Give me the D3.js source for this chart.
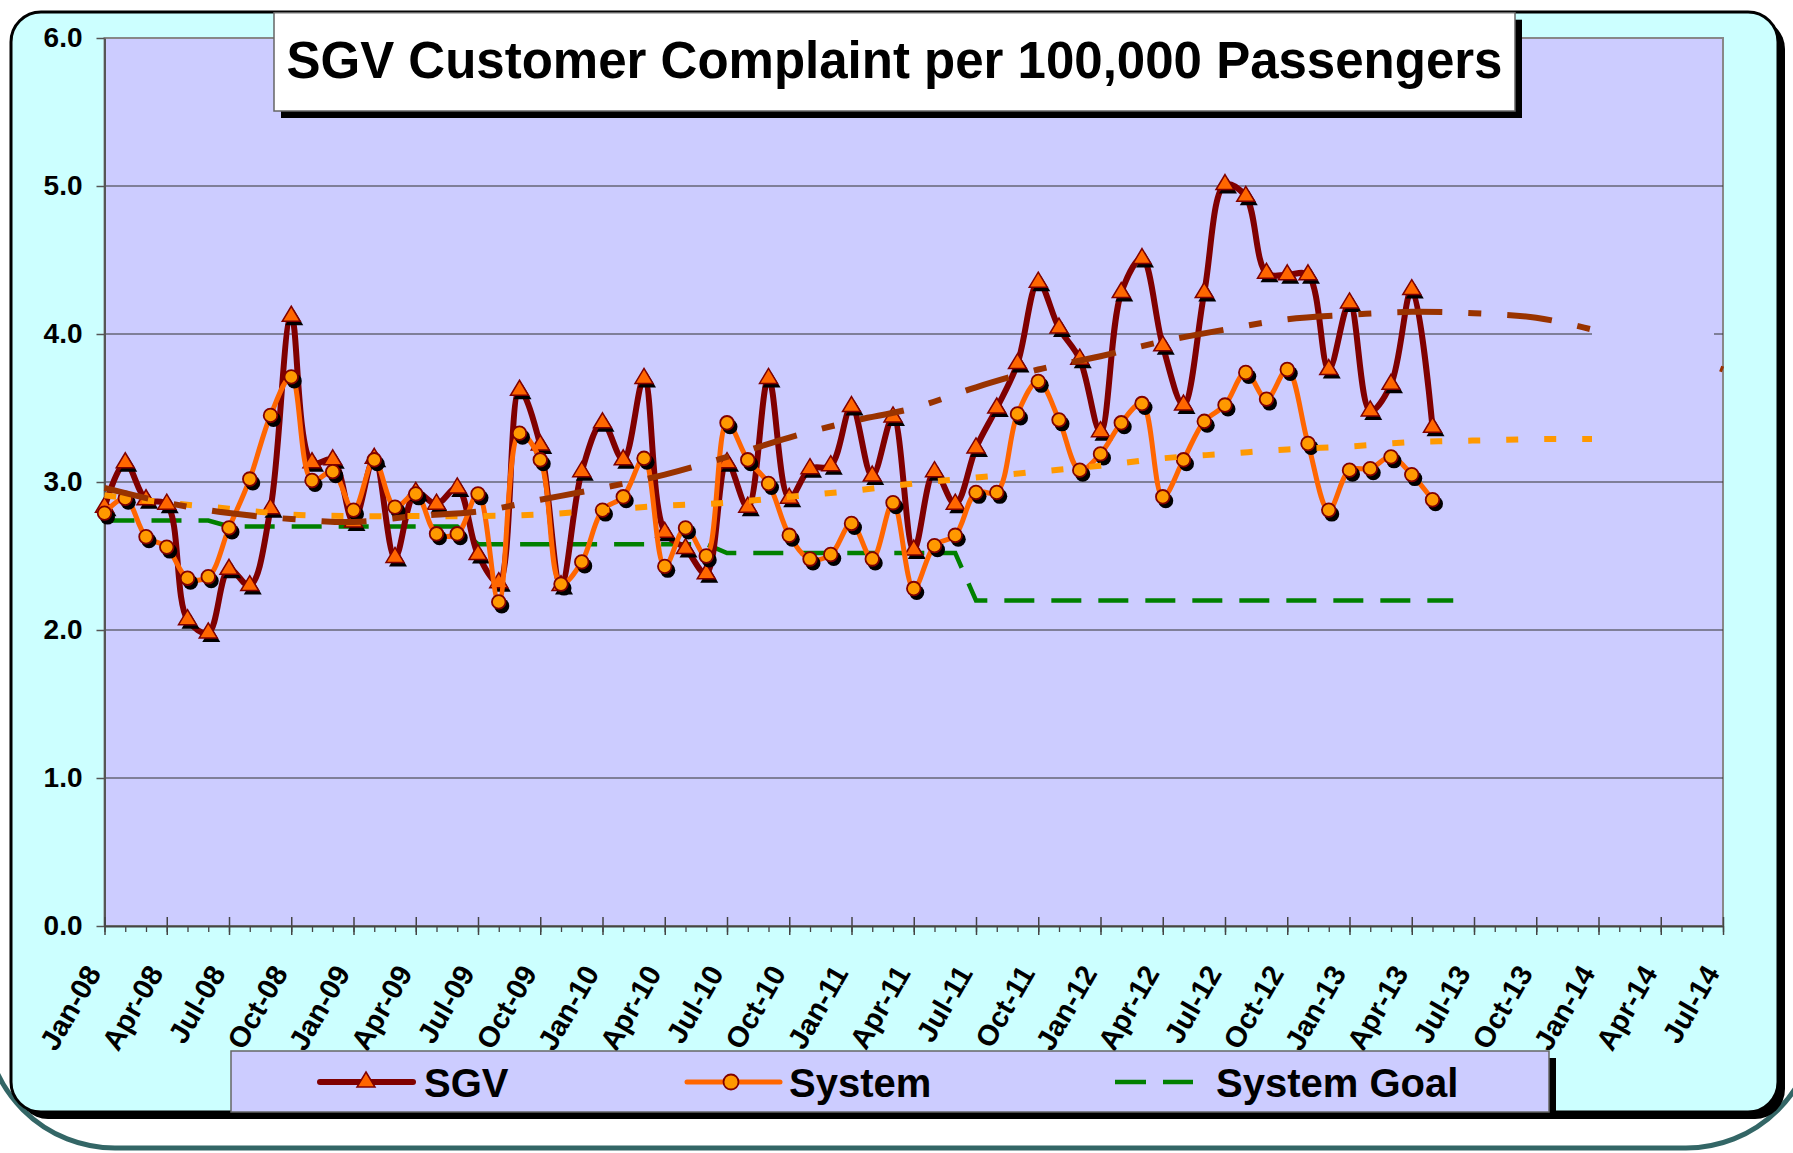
<!DOCTYPE html>
<html>
<head>
<meta charset="utf-8">
<script src="https://cdn.jsdelivr.net/npm/d3@7/dist/d3.min.js"></script>
<style>
  html, body { margin: 0; padding: 0; background: #fff; }
  svg { display: block; }
</style>
</head>
<body>
<svg width="1793" height="1153"></svg>
<script>
let svg = d3.select("svg");

//////////// DATA ////////////

// month index 0 = Jan-08, axis runs to Jul-14 (index 78)
const startMonth = new Date(2008, 0, 1);
const lastMonth = 78;

// complaints per 100,000 passengers, Jan-08 .. May-13
const sgvRate = [
  2.83, 3.13, 2.88, 2.85, 2.07, 1.98, 2.41, 2.30, 2.82, 4.12, 3.13, 3.15,
  2.73, 3.16, 2.49, 2.93, 2.85, 2.96, 2.51, 2.32, 3.62, 3.25, 2.30, 3.07,
  3.40, 3.15, 3.70, 2.66, 2.55, 2.38, 3.13, 2.83, 3.70, 2.89, 3.09, 3.11,
  3.51, 3.04, 3.44, 2.54, 3.07, 2.85, 3.23, 3.50, 3.80, 4.35, 4.04, 3.83,
  3.34, 4.28, 4.51, 3.92, 3.52, 4.28, 5.01, 4.93, 4.41, 4.40, 4.40, 3.76,
  4.21, 3.48, 3.66, 4.30, 3.37,
];
const systemRate = [
  2.79, 2.89, 2.63, 2.56, 2.35, 2.36, 2.69, 3.02, 3.45, 3.71, 3.01, 3.07,
  2.81, 3.15, 2.83, 2.92, 2.65, 2.65, 2.92, 2.19, 3.33, 3.15, 2.31, 2.46,
  2.81, 2.90, 3.16, 2.43, 2.69, 2.50, 3.40, 3.15, 2.99, 2.64, 2.48, 2.51,
  2.72, 2.48, 2.86, 2.28, 2.57, 2.64, 2.93, 2.93, 3.46, 3.68, 3.42, 3.08,
  3.19, 3.40, 3.53, 2.90, 3.15, 3.41, 3.52, 3.74, 3.56, 3.76, 3.26, 2.81,
  3.08, 3.09, 3.17, 3.05, 2.88,
];
// Jan-08 .. Jun-13
const systemGoal = [
  2.74, 2.74, 2.74, 2.74, 2.74, 2.74, 2.70, 2.70, 2.70, 2.70, 2.70, 2.70,
  2.70, 2.70, 2.70, 2.70, 2.70, 2.70, 2.58, 2.58, 2.58, 2.58, 2.58, 2.58,
  2.58, 2.58, 2.58, 2.58, 2.58, 2.58, 2.52, 2.52, 2.52, 2.52, 2.52, 2.52,
  2.52, 2.52, 2.52, 2.52, 2.52, 2.52, 2.20, 2.20, 2.20, 2.20, 2.20, 2.20,
  2.20, 2.20, 2.20, 2.20, 2.20, 2.20, 2.20, 2.20, 2.20, 2.20, 2.20, 2.20,
  2.20, 2.20, 2.20, 2.20, 2.20, 2.20,
];

// trendlines, read every quarter from Jan-08 to Jul-14
const trendMonths = [
  0, 3, 6, 9, 12, 15, 18, 21, 24, 27, 30, 33, 36, 39, 42, 45, 48, 51, 54,
  57, 60, 63, 66, 69, 72, 75, 78,
];
const sgvTrend = [
  2.96, 2.86, 2.79, 2.75, 2.73, 2.77, 2.80, 2.88, 2.96, 3.05, 3.17, 3.30,
  3.41, 3.50, 3.64, 3.76, 3.85, 3.95, 4.03, 4.10, 4.13, 4.15, 4.14, 4.11,
  4.02, 3.91, 3.76,
];
const systemTrend = [
  2.91, 2.86, 2.82, 2.78, 2.77, 2.77, 2.77, 2.78, 2.81, 2.84, 2.86, 2.90,
  2.94, 2.99, 3.03, 3.07, 3.11, 3.16, 3.19, 3.22, 3.24, 3.27, 3.28, 3.29,
  3.29, 3.29, 3.29,
];

const yTicks = [0, 1, 2, 3, 4, 5, 6];
const title = "SGV Customer Complaint per 100,000 Passengers";

//////////// STYLE ////////////

const FONT = "'Liberation Sans', Arial, sans-serif";
const FRAME_FILL = "#CCFFFF";
const PLOT_FILL = "#CCCCFF";
const SGV_COLOR = "#800000";
const SGV_MARKER = "#FF6600";
const SYSTEM_COLOR = "#FF6600";
const SYSTEM_MARKER = "#FF9900";
const GOAL_COLOR = "#008000";
const SGV_TREND_COLOR = "#993300";
const SYSTEM_TREND_COLOR = "#FF9900";
const TRIANGLE = "M0,-10L9,5L-9,5Z";

const plot = { left: 104.5, top: 38, right: 1723, bottom: 926 };

let x = d3.scaleLinear().domain([0, lastMonth]).range([plot.left, plot.right]);
let y = d3.scaleLinear().domain([0, 6]).range([plot.bottom, plot.top]);

const monthLabel = (m) => d3.timeFormat("%b-%y")(d3.timeMonth.offset(startMonth, m));

//////////// BACKGROUND ////////////

// slide border, only its bottom shows
svg.append("rect")
  .attr("x", -15).attr("y", -300)
  .attr("width", 1831).attr("height", 1448)
  .attr("rx", 130)
  .attr("fill", "white")
  .attr("stroke", "#336666")
  .attr("stroke-width", 5);

// chart frame with its shadow
svg.append("rect")
  .attr("x", 18).attr("y", 19)
  .attr("width", 1767).attr("height", 1100)
  .attr("rx", 30)
  .attr("fill", "black");
svg.append("rect")
  .attr("x", 11).attr("y", 12)
  .attr("width", 1767).attr("height", 1100)
  .attr("rx", 30)
  .attr("fill", FRAME_FILL)
  .attr("stroke", "black")
  .attr("stroke-width", 3);

svg.append("rect")
  .attr("x", plot.left).attr("y", plot.top)
  .attr("width", plot.right - plot.left)
  .attr("height", plot.bottom - plot.top)
  .attr("fill", PLOT_FILL)
  .attr("stroke", "#888")
  .attr("stroke-width", 2);

svg.append("g")
  .selectAll("line")
  .data(yTicks.filter((d) => d > 0 && d < 6))
  .join("line")
  .attr("x1", plot.left)
  .attr("x2", plot.right)
  .attr("y1", (d) => y(d))
  .attr("y2", (d) => y(d))
  .attr("stroke", "#333")
  .attr("stroke-width", 1.2);

//////////// AXES ////////////

let yAxis = svg.append("g")
  .attr("transform", `translate(${plot.left},0)`)
  .call(d3.axisLeft(y).tickValues(yTicks).tickFormat(d3.format(".1f"))
    .tickSize(8).tickSizeOuter(0).tickPadding(14));
yAxis.attr("font-family", FONT).attr("font-size", 28).attr("font-weight", "bold");
yAxis.select(".domain").attr("stroke", "#555").attr("stroke-width", 2);
yAxis.selectAll(".tick line").attr("stroke", "#555").attr("stroke-width", 1.5);
yAxis.selectAll(".tick text").attr("fill", "black");

// monthly minor ticks
let xMinor = svg.append("g")
  .attr("transform", `translate(0,${plot.bottom})`)
  .call(d3.axisBottom(x).tickValues(d3.range(0, lastMonth + 1))
    .tickSize(6).tickSizeOuter(0).tickFormat(""));
xMinor.select(".domain").remove();
xMinor.selectAll(".tick line").attr("stroke", "#444").attr("stroke-width", 1.3);

let xAxis = svg.append("g")
  .attr("transform", `translate(0,${plot.bottom})`)
  .call(d3.axisBottom(x).tickValues(trendMonths)
    .tickSize(9).tickSizeOuter(0).tickFormat(monthLabel));
xAxis.attr("font-family", FONT).attr("font-size", 29).attr("font-weight", "bold");
xAxis.select(".domain").attr("stroke", "#444").attr("stroke-width", 2);
xAxis.selectAll(".tick line").attr("y1", -9).attr("stroke", "#444").attr("stroke-width", 1.5);
xAxis.selectAll(".tick text")
  .attr("fill", "black")
  .attr("text-anchor", "end")
  .attr("y", 0)
  .attr("dy", 0)
  .attr("transform", "translate(-3,47) rotate(-60)");

//////////// SERIES ////////////

const smooth = d3.line()
  .x((d, i) => x(i))
  .y((d) => y(d))
  .curve(d3.curveCatmullRom.alpha(0.5));

svg.append("path")
  .attr("d", d3.line().x((d, i) => x(i)).y((d) => y(d))(systemGoal))
  .attr("fill", "none")
  .attr("stroke", GOAL_COLOR)
  .attr("stroke-width", 4.5)
  .attr("stroke-dasharray", "30,17");

function drawSeries(values, color, width, marker) {
  svg.append("path")
    .attr("d", smooth(values))
    .attr("fill", "none")
    .attr("stroke", color)
    .attr("stroke-width", width)
    .attr("stroke-linejoin", "round");

  const pts = svg.append("g")
    .selectAll("g")
    .data(values)
    .join("g")
    .attr("transform", (d, i) => `translate(${x(i)},${y(d)})`);

  // black drop shadow under each marker
  if (marker === "triangle") {
    pts.append("path").attr("d", TRIANGLE).attr("transform", "translate(3,4)").attr("fill", "black");
    pts.append("path").attr("d", TRIANGLE)
      .attr("fill", SGV_MARKER).attr("stroke", SGV_COLOR).attr("stroke-width", 1.5);
  } else {
    pts.append("circle").attr("r", 7.5).attr("cx", 3).attr("cy", 4).attr("fill", "black");
    pts.append("circle").attr("r", 6.8)
      .attr("fill", SYSTEM_MARKER).attr("stroke", SGV_COLOR).attr("stroke-width", 1.8);
  }
}

drawSeries(sgvRate, SGV_COLOR, 6, "triangle");
drawSeries(systemRate, SYSTEM_COLOR, 5, "circle");

//////////// TRENDLINES ////////////

const trendLine = d3.line()
  .x((d, i) => x(trendMonths[i]))
  .y((d) => y(d))
  .curve(d3.curveCatmullRom.alpha(0.5));

svg.append("path")
  .attr("d", trendLine(systemTrend))
  .attr("fill", "none")
  .attr("stroke", SYSTEM_TREND_COLOR)
  .attr("stroke-width", 6)
  .attr("stroke-dasharray", "12,26");

svg.append("path")
  .attr("d", trendLine(sgvTrend))
  .attr("fill", "none")
  .attr("stroke", SGV_TREND_COLOR)
  .attr("stroke-width", 6)
  .attr("stroke-dasharray", "45,26,13,26");

// blank patch that hides the trend ends in the original chart
svg.append("rect")
  .attr("x", 1592).attr("y", 250)
  .attr("width", 122).attr("height", 215)
  .attr("fill", PLOT_FILL);

//////////// TITLE ////////////

const titleBox = { x: 274, y: 12.7, w: 1241, h: 98.3 };
svg.append("rect")
  .attr("x", titleBox.x + 7).attr("y", titleBox.y + 7)
  .attr("width", titleBox.w).attr("height", titleBox.h)
  .attr("fill", "black");
svg.append("rect")
  .attr("x", titleBox.x).attr("y", titleBox.y)
  .attr("width", titleBox.w).attr("height", titleBox.h)
  .attr("fill", "white")
  .attr("stroke", "#666")
  .attr("stroke-width", 1.5);
svg.append("text")
  .attr("x", titleBox.x + titleBox.w / 2)
  .attr("y", 78)
  .attr("text-anchor", "middle")
  .attr("font-family", FONT)
  .attr("font-size", 51)
  .attr("font-weight", "bold")
  .text(title);

//////////// LEGEND ////////////

const legendBox = { x: 231, y: 1051, w: 1318, h: 61 };
const legendY = 1082;
svg.append("rect")
  .attr("x", legendBox.x + 7).attr("y", legendBox.y + 7)
  .attr("width", legendBox.w).attr("height", legendBox.h)
  .attr("fill", "black");
svg.append("rect")
  .attr("x", legendBox.x).attr("y", legendBox.y)
  .attr("width", legendBox.w).attr("height", legendBox.h)
  .attr("fill", PLOT_FILL)
  .attr("stroke", "#666")
  .attr("stroke-width", 1.5);

let legend = svg.append("g")
  .attr("font-family", FONT)
  .attr("font-size", 40)
  .attr("font-weight", "bold");

legend.append("line")
  .attr("x1", 320).attr("x2", 413).attr("y1", legendY).attr("y2", legendY)
  .attr("stroke", SGV_COLOR).attr("stroke-width", 6).attr("stroke-linecap", "round");
legend.append("path")
  .attr("d", TRIANGLE)
  .attr("transform", `translate(366,${legendY})`)
  .attr("fill", SGV_MARKER).attr("stroke", SGV_COLOR).attr("stroke-width", 1.5);
legend.append("text").attr("x", 424).attr("y", 1097).text("SGV");

legend.append("line")
  .attr("x1", 687).attr("x2", 780).attr("y1", legendY).attr("y2", legendY)
  .attr("stroke", SYSTEM_COLOR).attr("stroke-width", 5).attr("stroke-linecap", "round");
legend.append("circle")
  .attr("cx", 731).attr("cy", legendY).attr("r", 7.5)
  .attr("fill", SYSTEM_MARKER).attr("stroke", SGV_COLOR).attr("stroke-width", 1.8);
legend.append("text").attr("x", 789).attr("y", 1097).text("System");

legend.append("line")
  .attr("x1", 1115).attr("x2", 1193).attr("y1", legendY).attr("y2", legendY)
  .attr("stroke", GOAL_COLOR).attr("stroke-width", 4.5).attr("stroke-dasharray", "31,17");
legend.append("text").attr("x", 1216).attr("y", 1097).text("System Goal");
</script>
</body>
</html>
